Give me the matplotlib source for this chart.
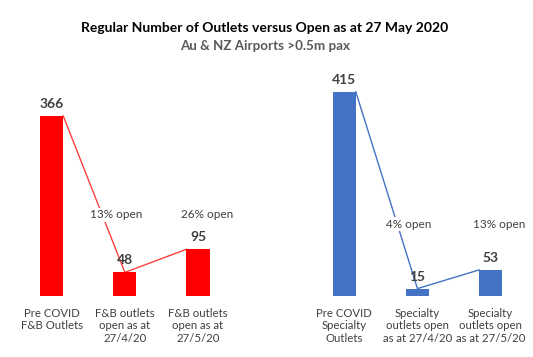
import matplotlib.pyplot as plt

# data
fb_labels = ['Pre COVID\nF&B Outlets', 'F&B outlets\nopen as at\n27/4/20', 'F&B outlets\nopen as at\n27/5/20']
fb_values = [366, 48, 95]
sp_labels = ['Pre COVID\nSpecialty\nOutlets', 'Specialty\noutlets open\nas at 27/4/20', 'Specialty\noutlets open\nas at 27/5/20']
sp_values = [415, 15, 53]

red = '#FF0000'
red_line = '#FF4040'
blue = '#4472C4'
grey = '#404040'

plt.rcParams['font.family'] = ['Lato', 'DejaVu Sans']

fig = plt.figure(figsize=(5.33, 3.57), dpi=100)
ax = fig.add_axes([0, 61 / 357, 1, 296 / 357])
ax.set_xlim(-0.707, 6.58)
ax.set_ylim(0, 601.6)
ax.axis('off')

w = 0.315
groups = [
    ([0, 1, 2], fb_values, fb_labels, red, red_line, 165),
    ([4, 5, 6], sp_values, sp_labels, blue, blue, 146),
]

for xs, vals, labs, col, lcol, pct_y in groups:
    ax.bar(xs, vals, width=w, color=col, zorder=2)
    # connector line: right edge of first bar, centre of second, left edge of third
    lx = [xs[0] + w / 2, xs[1], xs[2] - w / 2]
    ax.plot(lx, vals, color=lcol, lw=1.0, zorder=1)
    for x, v, lab in zip(xs, vals, labs):
        ax.text(x, v + 12, str(v), ha='center', va='bottom', fontsize=10,
                fontweight='bold', color=grey, zorder=4)
        ax.text(x, -24, lab, ha='center', va='top', fontsize=8.2,
                color=grey, linespacing=1.15)
    # share-open labels
    for x, v, dx in [(xs[1], vals[1], -0.12), (xs[2], vals[2], 0.12)]:
        pct = round(v / vals[0] * 100)
        ax.text(x + dx, pct_y, f'{pct}% open', ha='center', va='center',
                fontsize=8.5, color=grey, zorder=3,
                bbox=dict(boxstyle='square,pad=0.15', fc='white', ec='none'))

fig.text(0.497, 1 - 28 / 357, 'Regular Number of Outlets versus Open as at 27 May 2020',
         ha='center', va='center', fontsize=10, fontweight='bold', color='black')
fig.text(0.497, 1 - 46 / 357, 'Au & NZ Airports >0.5m pax',
         ha='center', va='center', fontsize=9.6, fontweight='bold', color='#595959')

fig.savefig('out.png', dpi=100)
